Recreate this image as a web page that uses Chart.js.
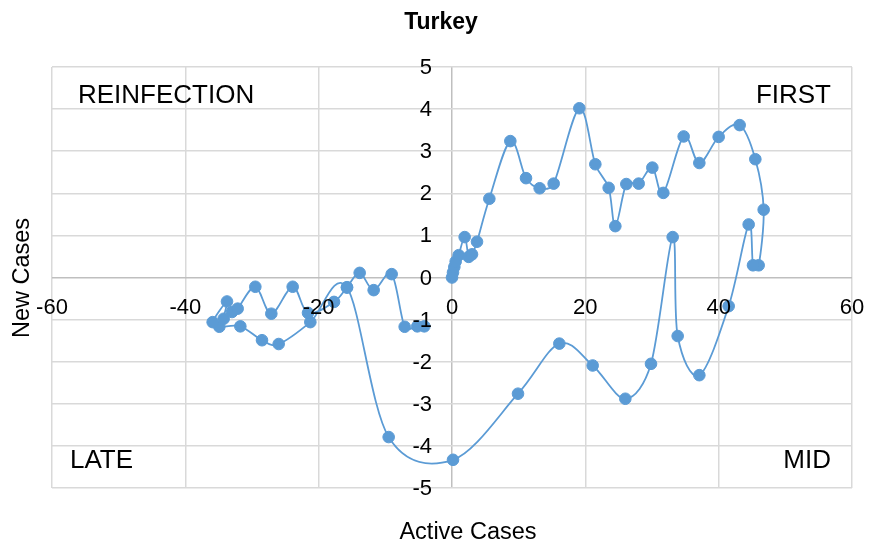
<!DOCTYPE html>
<html>
<head>
<meta charset="utf-8">
<script src="https://cdn.jsdelivr.net/npm/chart.js@4/dist/chart.umd.min.js"></script>
<style>
  html, body { margin: 0; padding: 0; background: #ffffff; }
  canvas { display: block; }
</style>
</head>
<body>
<canvas id="chart" width="869" height="545"></canvas>
<script>
// Turkey: daily change in active cases vs. change in new cases, in time order
const activeCases = [
  0, 0.15, 0.35, 0.55, 1.0, 1.9, 2.5, 3.0, 3.75, 5.6,
  8.75, 11.1, 13.15, 15.25, 19.1, 21.5, 23.5, 24.5, 26.15, 28.0,
  30.05, 31.7, 34.75, 37.1, 40.0, 43.15, 45.5, 46.75, 46.0, 45.15,
  44.5, 41.5, 37.1, 33.85, 33.1, 29.85, 26.0, 21.1, 16.1, 9.9,
  0.15, -9.5, -15.75, -21.25, -26.0, -28.5, -31.75, -34.9, -35.9, -33.75,
  -34.25, -33.0, -32.15, -29.5, -27.1, -23.9, -21.6, -17.7, -15.75, -13.85,
  -11.75, -9.05, -7.1, -5.2, -4.15
];
const newCases = [
  0, 0.12, 0.25, 0.38, 0.53, 0.96, 0.49, 0.55, 0.85, 1.87,
  3.24, 2.36, 2.12, 2.23, 4.02, 2.69, 2.13, 1.22, 2.22, 2.23,
  2.61, 2.01, 3.35, 2.72, 3.34, 3.62, 2.81, 1.61, 0.29, 0.29,
  1.26, -0.68, -2.32, -1.39, 0.96, -2.05, -2.88, -2.09, -1.57, -2.76,
  -4.33, -3.79, -0.24, -1.06, -1.58, -1.49, -1.16, -1.17, -1.06, -0.57,
  -0.98, -0.82, -0.74, -0.22, -0.86, -0.22, -0.84, -0.58, -0.23, 0.11,
  -0.30, 0.08, -1.17, -1.16, -1.16
];
const xTicks = [-60, -40, -20, 0, 20, 40, 60];
const yTicks = [5, 4, 3, 2, 1, 0, -1, -2, -3, -4, -5];
const chartTitle = 'Turkey';
const xTitle = 'Active Cases';
const yTitle = 'New Cases';
const quadrants = ['REINFECTION', 'FIRST', 'LATE', 'MID'];

const FONT = "'Liberation Sans', Arial, sans-serif";
const LINE_BLUE = '#5B9BD5';

// Smoothed line in the spreadsheet style: tangent from neighbours, 1/6 length,
// capped at half of the adjacent segment.
const smoothLine = {
  id: 'smoothLine',
  beforeDatasetDraw(chart, args) {
    const meta = args.meta;
    const pts = meta.data;
    const n = pts.length;
    for (let i = 0; i < n; i++) {
      const p = pts[i];
      const prev = pts[Math.max(i - 1, 0)];
      const next = pts[Math.min(i + 1, n - 1)];
      const tx = next.x - prev.x, ty = next.y - prev.y;
      const tl = Math.hypot(tx, ty) || 1;
      const dIn = Math.hypot(p.x - prev.x, p.y - prev.y);
      const dOut = Math.hypot(next.x - p.x, next.y - p.y);
      const fIn = Math.min(1 / 6, 0.5 * dIn / tl);
      const fOut = Math.min(1 / 6, 0.5 * dOut / tl);
      p.cp1x = p.x - fIn * tx;  p.cp1y = p.y - fIn * ty;
      p.cp2x = p.x + fOut * tx; p.cp2y = p.y + fOut * ty;
    }
    if (meta.dataset) {
      meta.dataset._pointsUpdated = true;
      meta.dataset._path = undefined;
    }
  }
};

// Tick labels beside the zero axes, titles and quadrant names
const labels = {
  id: 'labels',
  afterDatasetsDraw(chart) {
    const ctx = chart.ctx;
    const xs = chart.scales.x, ys = chart.scales.y;
    const x0 = xs.getPixelForValue(0), y0 = ys.getPixelForValue(0);
    ctx.save();
    ctx.fillStyle = '#000000';

    ctx.font = '22px ' + FONT;
    ctx.textBaseline = 'middle';
    ctx.textAlign = 'right';
    yTicks.forEach(v => ctx.fillText(String(v), x0 - 20, ys.getPixelForValue(v) + 1));
    ctx.textAlign = 'center';
    xTicks.forEach(v => ctx.fillText(String(v), xs.getPixelForValue(v), y0 + 30));

    ctx.font = '26px ' + FONT;
    ctx.textBaseline = 'alphabetic';
    ctx.textAlign = 'left';
    ctx.fillText(quadrants[0], 78, 103);
    ctx.fillText(quadrants[2], 70, 468);
    ctx.textAlign = 'right';
    ctx.fillText(quadrants[1], 831, 103);
    ctx.fillText(quadrants[3], 831, 468);

    ctx.font = 'bold 23px ' + FONT;
    ctx.textAlign = 'center';
    ctx.fillText(chartTitle, 441, 29);

    ctx.font = '23.5px ' + FONT;
    ctx.fillText(xTitle, 468, 539);
    ctx.translate(29, 278);
    ctx.rotate(-Math.PI / 2);
    ctx.fillText(yTitle, 0, 0);
    ctx.restore();
  }
};

const gridColor = ctx => (ctx.tick && ctx.tick.value === 0) ? '#bfbfbf' : '#d9d9d9';

new Chart(document.getElementById('chart'), {
  type: 'scatter',
  data: {
    datasets: [{
      data: activeCases.map((x, i) => ({ x: x, y: newCases[i] })),
      showLine: true,
      tension: 0.4,
      borderColor: LINE_BLUE,
      borderWidth: 1.8,
      backgroundColor: LINE_BLUE,
      pointBackgroundColor: LINE_BLUE,
      pointBorderColor: LINE_BLUE,
      pointBorderWidth: 1,
      pointRadius: 5.8,
      fill: false
    }]
  },
  options: {
    responsive: false,
    devicePixelRatio: 1,
    animation: false,
    layout: { padding: { left: 52, right: 17, top: 67, bottom: 57 } },
    plugins: {
      legend: { display: false },
      title: { display: false },
      tooltip: { enabled: false }
    },
    scales: {
      x: {
        type: 'linear',
        min: -60, max: 60,
        ticks: { display: false, stepSize: 20 },
        grid: { color: gridColor, lineWidth: 1.5, drawTicks: false },
        border: { display: false }
      },
      y: {
        type: 'linear',
        min: -5, max: 5,
        ticks: { display: false, stepSize: 1 },
        grid: { color: gridColor, lineWidth: 1.5, drawTicks: false },
        border: { display: false }
      }
    }
  },
  plugins: [smoothLine, labels]
});
</script>
</body>
</html>
